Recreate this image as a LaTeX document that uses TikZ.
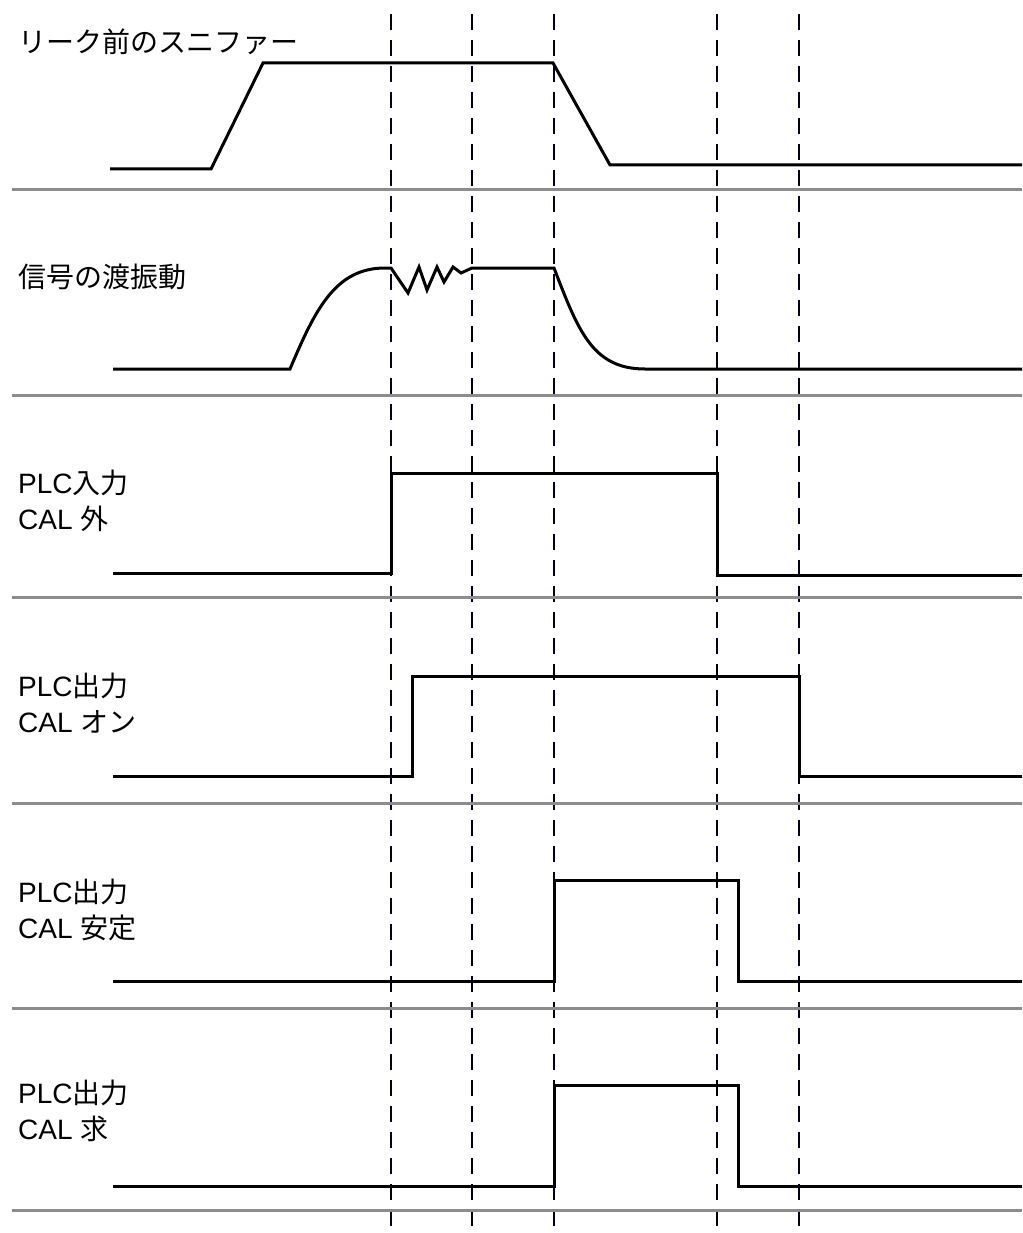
\documentclass[tikz,border=0pt]{standalone}
\usepackage{fontspec}
\setmainfont{Liberation Sans}
\newfontfamily\jp{Noto Sans CJK JP}

\begin{document}
\begin{tikzpicture}[x=1pt, y=-1pt,
  lbl/.style={anchor=west, inner sep=0pt, align=left, font=\fontsize{28}{36}\selectfont},
  wave/.style={line width=3pt, black},
  rowline/.style={line width=3pt, black!45},
  timeline/.style={line width=2.3pt, black!90!blue, dash pattern=on 16pt off 10pt}]
\useasboundingbox (0,0) rectangle (1022,1233);
\foreach \x in {391,472,554,717,799}
  \draw[timeline] (\x,14) -- (\x,1233);
\foreach \y in {190,395,597,803,1008,1210}
  \draw[rowline] (12,\y) -- (1022,\y);
\node[lbl] (sniff) at (18,42) {\jp リーク前のスニファー};
\node[lbl] (ring) at (18,277) {\jp 信号の渡振動};
\node[lbl] (calout) at (18,501) {PLC{\jp 入力}\\CAL {\jp 外}};
\node[lbl] (calon) at (18,703) {PLC{\jp 出力}\\CAL {\jp オン}};
\node[lbl] (calstab) at (18,910) {PLC{\jp 出力}\\CAL {\jp 安定}};
\node[lbl] (calreq) at (18,1111) {PLC{\jp 出力}\\CAL {\jp 求}};
% signals
\draw[wave] (110,169) -- (211,169) -- (263,63) -- (553,63) -- (610,165) -- (1022,165);
\draw[wave] (113,369) -- (290,369) .. controls (315,310) and (335,268) .. (385,268) -- (391,268)
  -- (408,293) -- (419,267) -- (427,290) -- (437,267) -- (444,282) -- (453,267) -- (461,273) -- (472,268)
  -- (554,268) .. controls (578,330) and (592,369) .. (645,369) -- (1022,369);
\draw[wave] (113,573) -- (391,573) -- (391,473) -- (717,473) -- (717,575) -- (1022,575);
\draw[wave] (113,776) -- (412,776) -- (412,676) -- (799,676) -- (799,776) -- (1022,776);
\draw[wave] (113,981) -- (554,981) -- (554,880) -- (738,880) -- (738,981) -- (1022,981);
\draw[wave] (113,1186) -- (554,1186) -- (554,1085) -- (738,1085) -- (738,1186) -- (1022,1186);
\end{tikzpicture}
\end{document}
